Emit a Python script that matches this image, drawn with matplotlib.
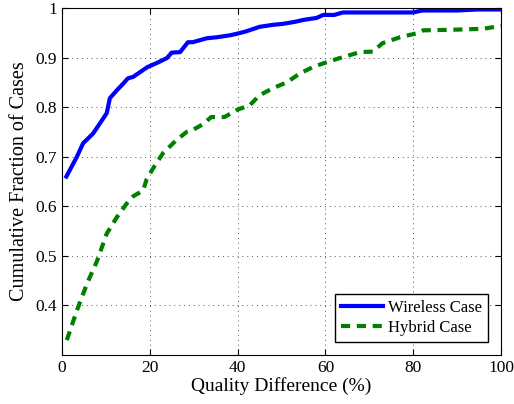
import matplotlib.pyplot as plt

plt.rcParams['font.family'] = ['Liberation Serif', 'DejaVu Serif']

# Datos =======================================================================
x_wireless = [1, 3.4, 4.8, 7.1, 9, 10.2, 10.9, 12.5, 14, 15, 16.2, 18.5, 19.5,
              21.6, 23.9, 25, 26.9, 28.7, 29.8, 33, 35.3, 38.3, 39.8, 42, 45,
              48, 50.3, 53, 55, 58, 59.5, 62, 64, 70, 80, 82, 90, 94.5, 100]
y_wireless = [0.66, 0.70, 0.727, 0.747, 0.772, 0.788, 0.818, 0.834, 0.848, 0.858,
              0.861, 0.875, 0.881, 0.889, 0.899, 0.91, 0.911, 0.931, 0.931, 0.939,
              0.941, 0.945, 0.948, 0.953, 0.962, 0.966, 0.968, 0.972, 0.976, 0.98,
              0.986, 0.986, 0.991, 0.991, 0.991, 0.995, 0.995, 0.997, 0.997]

x_hybrid = [1.1, 3.4, 5.7, 8, 10.2, 12.5, 14.7, 16.2, 18.5, 19.3, 21, 23, 26,
            28.4, 30, 32, 34, 37, 40, 42.8, 45, 48, 51.2, 54.2, 57.2, 60.4, 64,
            67.9, 70.8, 73, 77, 80.8, 82.3, 88.4, 95.9, 100]
y_hybrid = [0.33, 0.39, 0.444, 0.49, 0.545, 0.578, 0.605, 0.62, 0.632, 0.655,
            0.68, 0.707, 0.733, 0.75, 0.755, 0.765, 0.78, 0.78, 0.795, 0.804,
            0.824, 0.838, 0.85, 0.868, 0.881, 0.891, 0.901, 0.911, 0.912, 0.929,
            0.941, 0.949, 0.955, 0.956, 0.958, 0.964]

# Visualizacion ===============================================================
fig = plt.figure(figsize=(5.14, 4.04), dpi=100)
ax = fig.add_axes([0.1206, 0.1213, 0.8541, 0.8589])

ax.plot(x_wireless, y_wireless, color='#0000ff', lw=3, label='Wireless Case')
ax.plot(x_hybrid, y_hybrid, color='#008000', lw=3, ls=(0, (2.2, 1.6)),
        label='Hybrid Case')

ax.set_xlim(0, 100)
ax.set_ylim(0.3, 1)
ax.set_xticks([0, 20, 40, 60, 80, 100])
ax.set_yticks([0.4, 0.5, 0.6, 0.7, 0.8, 0.9, 1])
ax.set_yticklabels(['0.4', '0.5', '0.6', '0.7', '0.8', '0.9', '1'])
ax.tick_params(direction='in', labelsize=12.5, top=True, right=True, length=4)
ax.grid(True, ls=(0, (1, 4)), color='#555555', lw=0.7)

ax.set_xlabel('Quality Difference (%)', fontsize=14, labelpad=1)
ax.set_ylabel('Cumulative Fraction of Cases', fontsize=14.5, labelpad=5)

leg = ax.legend(loc='lower right', fontsize=12, fancybox=False, framealpha=1,
                edgecolor='black', borderaxespad=0.8, handlelength=2.5,
                handletextpad=0.3, labelspacing=0.25, borderpad=0.35)
leg.get_frame().set_linewidth(1)

plt.savefig('out.png', dpi=100)
